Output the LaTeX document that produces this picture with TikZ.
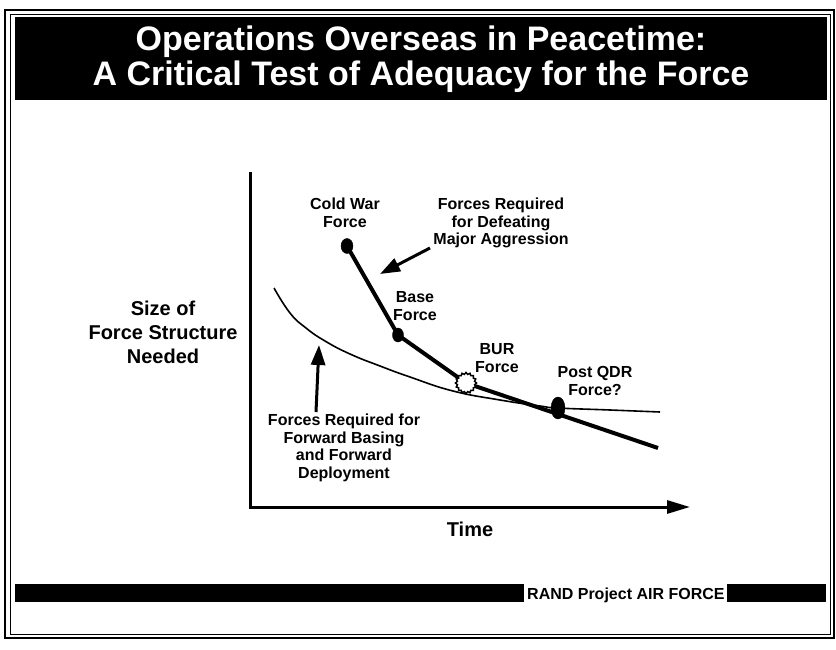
\documentclass[tikz,border=0pt]{standalone}
\usepackage{fontspec}
\setmainfont{Liberation Sans}
\usetikzlibrary{arrows.meta,shapes.geometric}

\begin{document}
\begin{tikzpicture}[x=1pt,y=-1pt,
  lbl/.style = {font=\bfseries\fontsize{16}{17.5}\selectfont, align=center, inner sep=0pt},
  big/.style = {font=\bfseries\fontsize{20}{24}\selectfont, align=center, inner sep=0pt},
  dot/.style = {draw, fill, ellipse, inner sep=0pt},
  burst/.style = {star, star points=16, star point ratio=1.2, draw, fill=white, line width=1.5pt, minimum size=21pt, inner sep=0pt},
  ptr/.style = {line width=3pt, -{Triangle[length=20pt,width=14pt]}}]
\useasboundingbox (0,0) rectangle (836,650);
\draw[line width=1.4pt] (5,10) rectangle (834,638);
\draw[line width=0.7pt] (10,14) rectangle (830,634);
\fill (15,17) rectangle (827,100);
\node[font=\bfseries\fontsize{34}{35}\selectfont, text=white, align=center, inner sep=0pt] (title) at (421,59) {Operations Overseas in Peacetime:\\A Critical Test of Adequacy for the Force};
\fill (15,584) rectangle (524,602);
\node[lbl, anchor=base west] (rand) at (527,599) {RAND Project AIR FORCE};
\fill (727,584) rectangle (826,602);
\coordinate (ytop) at (250,172);
\coordinate (orig) at (250,507);
\coordinate (xend) at (690,507);
\draw[line width=3pt, -{Triangle[length=23pt,width=13pt]}] (ytop) -- (orig) -- (xend);
\node[big] (size) at (163,332) {Size of\\Force Structure\\Needed};
\node[big] (time) at (470,529) {Time};
\draw[line width=1.6pt] plot[smooth, tension=0.8] coordinates {(274,288) (290,313) (306,328) (325,341) (350,354) (380,366) (410,377) (453,391) (500,400) (540,406) (558,408) (610,410) (660,412)};
\coordinate (tail) at (658,448);
\node[dot, minimum width=12pt, minimum height=15pt] (cold) at (347,246) {};
\node[dot, minimum width=11pt, minimum height=14pt] (base) at (398,335) {};
\coordinate (bur) at (466,383);
\draw[line width=4pt, line join=round] (cold.center) -- (base.center) -- (bur) -- (tail);
\node[burst] (burpt) at (bur) {};
\node[dot, minimum width=14pt, minimum height=22pt] (qdr) at (558,408) {};
\node[lbl] (coldl) at (345,213) {Cold War\\Force};
\node[lbl] (major) at (501,223) {Forces Required\\for Defeating\\Major Aggression};
\node[lbl] (basel) at (415,306) {Base\\Force};
\node[lbl] (burl) at (497,358) {BUR\\Force};
\node[lbl] (qdrl) at (595,381) {Post QDR\\Force?};
\node[lbl] (fwd) at (344,448) {Forces Required for\\Forward Basing\\and Forward\\Deployment};
\coordinate (m1) at (430,248);
\coordinate (m2) at (380,274);
\draw[ptr] (m1) -- (m2);
\coordinate (f1) at (316,412);
\coordinate (f2) at (319,345);
\draw[ptr] (f1) -- (f2);
\end{tikzpicture}
\end{document}
